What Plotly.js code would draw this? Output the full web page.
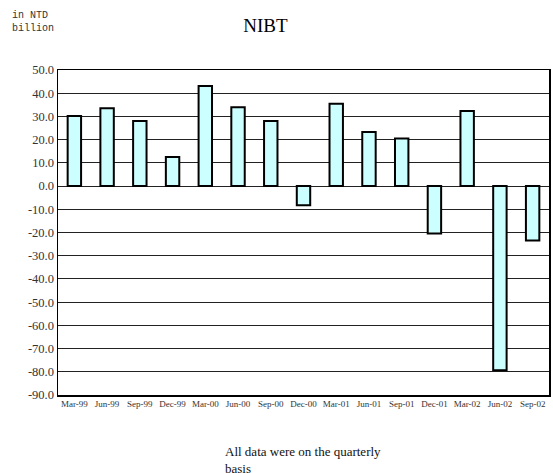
<!DOCTYPE html>
<html>
<head>
<meta charset="utf-8">
<script src="https://cdn.plot.ly/plotly-3.0.1.min.js"></script>
<style>html,body{margin:0;padding:0;background:#fff;}#chart{width:553px;height:473px;}</style>
</head>
<body>
<div id="chart"></div>
<script>
const categories = ["Mar-99","Jun-99","Sep-99","Dec-99","Mar-00","Jun-00","Sep-00","Dec-00","Mar-01","Jun-01","Sep-01","Dec-01","Mar-02","Jun-02","Sep-02"];
const nibt = [30.2, 33.5, 28.0, 12.5, 43.1, 34.0, 28.0, -8.3, 35.5, 23.3, 20.5, -20.4, 32.3, -79.3, -23.4];
const yTicks = [50,40,30,20,10,0,-10,-20,-30,-40,-50,-60,-70,-80,-90];

const serif = "Liberation Serif";

const data = [{
  type: 'bar',
  x: categories,
  y: nibt,
  marker: {color: '#CCFFFF', line: {color: '#000000', width: 2}},
  hoverinfo: 'x+y'
}];

const layout = {
  width: 553, height: 473,
  margin: {l: 58, r: 4, t: 70, b: 78},
  paper_bgcolor: '#ffffff', plot_bgcolor: '#ffffff',
  bargap: 0.59,
  showlegend: false,
  title: {text: 'NIBT', font: {family: serif, size: 19, color: '#000'}, x: 0.48, xanchor: 'center', y: 0.947, yanchor: 'middle'},
  xaxis: {
    type: 'category',
    showgrid: false,
    showline: true, linecolor: '#000', linewidth: 1.5, mirror: true,
    ticks: '', tickfont: {family: serif, size: 9, color: '#333'},
    tickangle: 0, fixedrange: true
  },
  yaxis: {
    range: [-90, 50],
    tickvals: yTicks,
    ticktext: yTicks.map(v => v.toFixed(1)),
    showgrid: true, gridcolor: '#222', gridwidth: 1,
    zeroline: true, zerolinecolor: '#222', zerolinewidth: 1,
    showline: true, linecolor: '#000', linewidth: 1.5, mirror: true,
    ticks: '', ticklen: 0,
    tickfont: {family: serif, size: 12.5, color: '#333'},
    fixedrange: true
  },
  annotations: [
    {text: 'in NTD<br>billion', xref: 'paper', yref: 'paper', x: -0.098, y: 1.19, xanchor: 'left', yanchor: 'top', align: 'left', showarrow: false,
     font: {family: 'Liberation Mono', size: 10, color: '#333'}},
    {text: 'All data were on the quarterly<br>basis', xref: 'paper', yref: 'paper', x: (223-58)/491, y: -(442-395)/325, xanchor: 'left', yanchor: 'top', align: 'left', showarrow: false,
     font: {family: serif, size: 13, color: '#111'}}
  ]
};

Plotly.newPlot('chart', data, layout, {displayModeBar: false, staticPlot: true});
</script>
</body>
</html>
